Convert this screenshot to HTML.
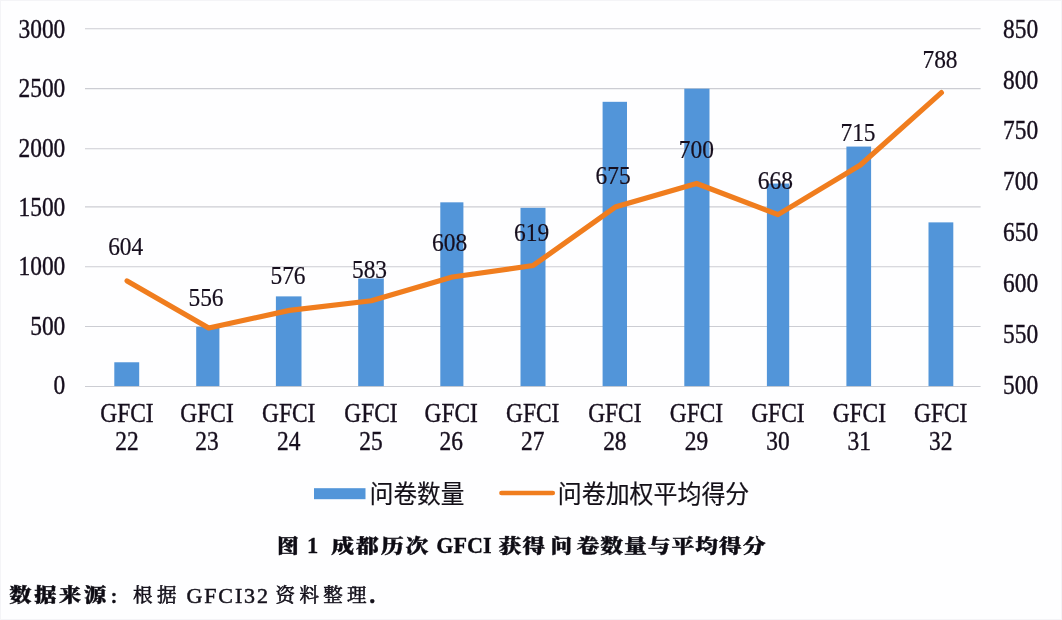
<!DOCTYPE html>
<html lang="zh-CN">
<head>
<meta charset="utf-8">
<title>图 1 成都历次 GFCI 获得问卷数量与平均得分</title>
<style>
html,body{margin:0;padding:0;background:#fefeff;}
body{width:1062px;height:620px;overflow:hidden;}
svg{display:block;}
.ax{font-family:"Liberation Serif","Noto Serif CJK SC",serif;font-size:26.6px;fill:#170f1e;stroke:#170f1e;stroke-width:0.4px;}
.dl{font-family:"Liberation Serif","Noto Serif CJK SC",serif;font-size:24.8px;fill:#170f1e;stroke:#170f1e;stroke-width:0.2px;}
.lg{font-family:"Liberation Sans","Noto Sans CJK SC",sans-serif;font-size:25.2px;fill:#141018;stroke:#141018;stroke-width:0.2px;}
.cap{font-family:"Liberation Serif","Noto Serif CJK SC",serif;font-weight:900;font-size:19.5px;fill:#0e0c14;stroke:#0e0c14;stroke-width:0.4px;}
.capl{font-family:"Liberation Serif","Noto Serif CJK SC",serif;font-weight:700;font-size:22.5px;fill:#0e0c14;stroke:#0e0c14;stroke-width:0.3px;}
.src{font-family:"Liberation Serif","Noto Serif CJK SC",serif;font-size:19.5px;fill:#15121c;stroke:#15121c;stroke-width:0.6px;}
.srcl{font-family:"Liberation Serif","Noto Serif CJK SC",serif;font-size:22px;fill:#15121c;stroke:#15121c;stroke-width:0.5px;}
.srcb{font-family:"Liberation Serif","Noto Serif CJK SC",serif;font-weight:900;font-size:19px;fill:#0e0c14;stroke:#0e0c14;stroke-width:0.4px;}
</style>
</head>
<body>
<svg width="1062" height="620" viewBox="0 0 1062 620">
<rect x="0" y="0" width="1062" height="620" fill="#fefeff"/>
<rect x="0.5" y="0.5" width="1061" height="619" fill="none" stroke="#f4f4f7" stroke-width="1"/>

<g stroke="#cccdd3" stroke-width="1.1" fill="none">
<line x1="85.0" y1="28.70" x2="980.6" y2="28.70"/>
<line x1="85.0" y1="88.60" x2="980.6" y2="88.60"/>
<line x1="85.0" y1="148.70" x2="980.6" y2="148.70"/>
<line x1="85.0" y1="206.90" x2="980.6" y2="206.90"/>
<line x1="85.0" y1="266.80" x2="980.6" y2="266.80"/>
<line x1="85.0" y1="326.50" x2="980.6" y2="326.50"/>
<line x1="85.0" y1="386.50" x2="980.6" y2="386.50"/>
</g>
<g fill="#5295d9">
<rect x="114.30" y="362.27" width="24.90" height="23.83"/>
<rect x="196.20" y="326.82" width="23.20" height="59.28"/>
<rect x="275.90" y="296.38" width="25.60" height="89.72"/>
<rect x="358.20" y="278.47" width="25.60" height="107.63"/>
<rect x="440.30" y="202.32" width="23.10" height="183.78"/>
<rect x="520.50" y="207.81" width="25.00" height="178.29"/>
<rect x="602.60" y="101.81" width="24.40" height="284.29"/>
<rect x="684.30" y="88.68" width="25.20" height="297.42"/>
<rect x="766.90" y="183.58" width="22.30" height="202.52"/>
<rect x="846.40" y="146.57" width="24.70" height="239.53"/>
<rect x="928.50" y="222.37" width="24.80" height="163.73"/>
</g>
<text class="ax" transform="translate(65.30 37.90) scale(0.88 1)" text-anchor="end">3000</text>
<text class="ax" transform="translate(65.30 97.25) scale(0.88 1)" text-anchor="end">2500</text>
<text class="ax" transform="translate(65.30 156.60) scale(0.88 1)" text-anchor="end">2000</text>
<text class="ax" transform="translate(65.30 215.95) scale(0.88 1)" text-anchor="end">1500</text>
<text class="ax" transform="translate(65.30 275.30) scale(0.88 1)" text-anchor="end">1000</text>
<text class="ax" transform="translate(65.30 334.65) scale(0.88 1)" text-anchor="end">500</text>
<text class="ax" transform="translate(65.30 394.00) scale(0.88 1)" text-anchor="end">0</text>
<text class="ax" transform="translate(1003.00 37.80) scale(0.88 1)" text-anchor="start">850</text>
<text class="ax" transform="translate(1003.00 88.64) scale(0.88 1)" text-anchor="start">800</text>
<text class="ax" transform="translate(1003.00 139.49) scale(0.88 1)" text-anchor="start">750</text>
<text class="ax" transform="translate(1003.00 190.33) scale(0.88 1)" text-anchor="start">700</text>
<text class="ax" transform="translate(1003.00 241.17) scale(0.88 1)" text-anchor="start">650</text>
<text class="ax" transform="translate(1003.00 292.01) scale(0.88 1)" text-anchor="start">600</text>
<text class="ax" transform="translate(1003.00 342.86) scale(0.88 1)" text-anchor="start">550</text>
<text class="ax" transform="translate(1003.00 393.70) scale(0.88 1)" text-anchor="start">500</text>
<text class="ax" transform="translate(126.90 421.70) scale(0.88 1)" text-anchor="middle">GFCI</text>
<text class="ax" transform="translate(126.90 449.70) scale(0.88 1)" text-anchor="middle">22</text>
<text class="ax" transform="translate(207.01 421.70) scale(0.88 1)" text-anchor="middle">GFCI</text>
<text class="ax" transform="translate(207.01 449.70) scale(0.88 1)" text-anchor="middle">23</text>
<text class="ax" transform="translate(288.72 421.70) scale(0.88 1)" text-anchor="middle">GFCI</text>
<text class="ax" transform="translate(288.72 449.70) scale(0.88 1)" text-anchor="middle">24</text>
<text class="ax" transform="translate(370.93 421.70) scale(0.88 1)" text-anchor="middle">GFCI</text>
<text class="ax" transform="translate(370.93 449.70) scale(0.88 1)" text-anchor="middle">25</text>
<text class="ax" transform="translate(451.24 421.70) scale(0.88 1)" text-anchor="middle">GFCI</text>
<text class="ax" transform="translate(451.24 449.70) scale(0.88 1)" text-anchor="middle">26</text>
<text class="ax" transform="translate(532.65 421.70) scale(0.88 1)" text-anchor="middle">GFCI</text>
<text class="ax" transform="translate(532.65 449.70) scale(0.88 1)" text-anchor="middle">27</text>
<text class="ax" transform="translate(614.86 421.70) scale(0.88 1)" text-anchor="middle">GFCI</text>
<text class="ax" transform="translate(614.86 449.70) scale(0.88 1)" text-anchor="middle">28</text>
<text class="ax" transform="translate(696.47 421.70) scale(0.88 1)" text-anchor="middle">GFCI</text>
<text class="ax" transform="translate(696.47 449.70) scale(0.88 1)" text-anchor="middle">29</text>
<text class="ax" transform="translate(777.88 421.70) scale(0.88 1)" text-anchor="middle">GFCI</text>
<text class="ax" transform="translate(777.88 449.70) scale(0.88 1)" text-anchor="middle">30</text>
<text class="ax" transform="translate(859.29 421.70) scale(0.88 1)" text-anchor="middle">GFCI</text>
<text class="ax" transform="translate(859.29 449.70) scale(0.88 1)" text-anchor="middle">31</text>
<text class="ax" transform="translate(940.70 421.70) scale(0.88 1)" text-anchor="middle">GFCI</text>
<text class="ax" transform="translate(940.70 449.70) scale(0.88 1)" text-anchor="middle">32</text>
<polyline points="127.10,280.89 208.71,328.00 289.52,310.34 371.33,300.78 452.34,277.00 533.25,265.45 615.96,206.65 696.57,183.47 777.98,214.61 860.39,165.02 941.40,92.63" fill="none" stroke="#f07d1e" stroke-width="5.2" stroke-linecap="round" stroke-linejoin="round"/>
<text class="dl" transform="translate(125.70 254.90) scale(0.945 1)" text-anchor="middle">604</text>
<text class="dl" transform="translate(206.00 305.50) scale(0.945 1)" text-anchor="middle">556</text>
<text class="dl" transform="translate(288.00 283.50) scale(0.945 1)" text-anchor="middle">576</text>
<text class="dl" transform="translate(369.50 278.30) scale(0.945 1)" text-anchor="middle">583</text>
<text class="dl" transform="translate(449.60 251.30) scale(0.945 1)" text-anchor="middle">608</text>
<text class="dl" transform="translate(531.60 240.70) scale(0.945 1)" text-anchor="middle">619</text>
<text class="dl" transform="translate(613.10 184.10) scale(0.945 1)" text-anchor="middle">675</text>
<text class="dl" transform="translate(696.30 157.80) scale(0.945 1)" text-anchor="middle">700</text>
<text class="dl" transform="translate(775.40 189.40) scale(0.945 1)" text-anchor="middle">668</text>
<text class="dl" transform="translate(858.00 141.20) scale(0.945 1)" text-anchor="middle">715</text>
<text class="dl" transform="translate(940.00 68.00) scale(0.945 1)" text-anchor="middle">788</text>
<rect x="314" y="488.2" width="51.5" height="11" fill="#5295d9"/>
<text class="lg" x="369.8" y="503.2" textLength="94.5" lengthAdjust="spacingAndGlyphs">问卷数量</text>
<line x1="501.4" y1="493" x2="552.8" y2="493" stroke="#f07d1e" stroke-width="4.5" stroke-linecap="round"/>
<text class="lg" x="557.8" y="503.2" textLength="191.5" lengthAdjust="spacingAndGlyphs">问卷加权平均得分</text>
<text class="cap" transform="translate(277.00 552.80) scale(1.12 1)" text-anchor="start" letter-spacing="0">图</text>
<text class="capl" x="312.6" y="553.3" text-anchor="middle">1</text>
<text class="cap" transform="translate(331.20 552.80) scale(1.17 1)" text-anchor="start" letter-spacing="1.65">成都历次</text>
<text class="capl" x="436.3" y="553.3" textLength="55.4" lengthAdjust="spacingAndGlyphs">GFCI</text>
<text class="cap" transform="translate(498.40 552.80) scale(1.17 1)" text-anchor="start" letter-spacing="1.2">获得</text>
<text class="cap" transform="translate(550.60 552.80) scale(1.12 1)" text-anchor="start" letter-spacing="0">问</text>
<text class="cap" transform="translate(576.60 552.80) scale(1.17 1)" text-anchor="start" letter-spacing="0.8">卷数量与平均得分</text>
<text class="srcb" transform="translate(9.30 601.60) scale(1.17 1)" text-anchor="start" letter-spacing="2.3">数据来源</text>
<text class="srcb" x="109.6" y="602.6" style="font-size:15.5px">：</text>
<text class="src" x="133" y="601.8" textLength="43.6" lengthAdjust="spacing">根据</text>
<text class="srcl" x="186.4" y="602.6" textLength="81.6" lengthAdjust="spacing">GFCI32</text>
<text class="src" x="275.6" y="601.8" textLength="91" lengthAdjust="spacing">资料整理</text>
<text class="srcl" x="369.3" y="602.6" style="font-weight:700;font-size:24px">.</text>
</svg>
</body>
</html>
